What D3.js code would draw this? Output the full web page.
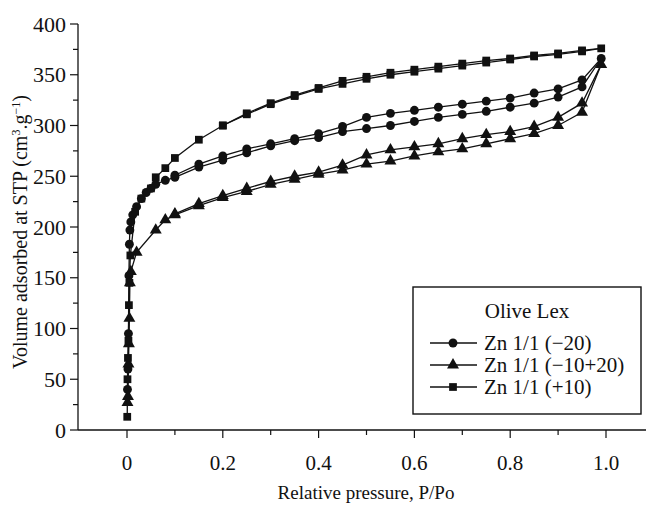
<!DOCTYPE html>
<html>
<head>
<meta charset="utf-8">
<script src="https://cdn.jsdelivr.net/npm/d3@7"></script>
<style>
  body { margin: 0; background: #fff; }
</style>
</head>
<body>
<div id="chart"></div>
<script>
// Zn 1/1 (-20) : circles
var circP_ads = [0.001, 0.002, 0.003, 0.004, 0.005, 0.006, 0.008, 0.012, 0.02, 0.03, 0.04, 0.05, 0.06, 0.08, 0.1, 0.15, 0.2, 0.25, 0.3, 0.35, 0.4, 0.45, 0.5, 0.55, 0.6, 0.65, 0.7, 0.75, 0.8, 0.85, 0.9, 0.95, 0.99];
var circV_ads = [40, 60, 95, 152, 183, 197, 205, 212, 220, 228, 234, 238, 242, 246, 249, 259, 266, 273, 280, 285, 288, 294, 297, 300, 304, 308, 311, 314, 318, 322, 328, 338, 366];
var circP_des = [0.99, 0.95, 0.9, 0.85, 0.8, 0.75, 0.7, 0.65, 0.6, 0.55, 0.5, 0.45, 0.4, 0.35, 0.3, 0.25, 0.2, 0.15, 0.1];
var circV_des = [366, 345, 336, 332, 327, 324, 321, 318, 315, 312, 308, 299, 292, 287, 282, 277, 270, 262, 251];

// Zn 1/1 (-10+20) : triangles
var triP_ads = [0.001, 0.002, 0.003, 0.004, 0.005, 0.006, 0.008, 0.02, 0.06, 0.08, 0.1, 0.15, 0.2, 0.25, 0.3, 0.35, 0.4, 0.45, 0.5, 0.55, 0.6, 0.65, 0.7, 0.75, 0.8, 0.85, 0.9, 0.95, 0.99];
var triV_ads = [27, 33, 65, 85, 110, 145, 156, 175, 197, 207, 212, 221, 229, 235, 242, 247, 252, 256, 262, 265, 270, 274, 277, 282, 287, 292, 300, 313, 360];
var triP_des = [0.99, 0.95, 0.9, 0.85, 0.8, 0.75, 0.7, 0.65, 0.6, 0.55, 0.5, 0.45, 0.4, 0.35, 0.3, 0.25, 0.2, 0.15, 0.1];
var triV_des = [360, 322, 308, 299, 294, 291, 287, 282, 279, 276, 271, 261, 254, 250, 245, 238, 231, 223, 213];

// Zn 1/1 (+10) : squares
var sqP_ads = [0.0005, 0.001, 0.002, 0.003, 0.004, 0.005, 0.007, 0.017, 0.03, 0.05, 0.06, 0.08, 0.1, 0.15, 0.2, 0.25, 0.3, 0.35, 0.4, 0.45, 0.5, 0.55, 0.6, 0.65, 0.7, 0.75, 0.8, 0.85, 0.9, 0.95, 0.99];
var sqV_ads = [13, 50, 71, 88, 123, 145, 172, 215, 228, 238, 249, 258, 268, 286, 300, 311, 321, 329, 336, 341, 346, 350, 353, 356, 359, 362, 365, 368, 370, 373, 376];
var sqP_des = [0.99, 0.95, 0.9, 0.85, 0.8, 0.75, 0.7, 0.65, 0.6, 0.55, 0.5, 0.45, 0.4, 0.35, 0.3, 0.25, 0.2];
var sqV_des = [376, 374, 371, 369, 366, 364, 361, 358, 355, 352, 348, 344, 337, 330, 322, 312, 300];

var seriesNames = ['Zn 1/1 (\u221220)', 'Zn 1/1 (\u221210+20)', 'Zn 1/1 (+10)'];
var xTicks = [0, 0.2, 0.4, 0.6, 0.8, 1.0];
var yTicks = [0, 50, 100, 150, 200, 250, 300, 350, 400];

var width = 646, height = 506;
var serif = '"Liberation Serif", "Times New Roman", Tinos, "DejaVu Serif", serif';

var x = d3.scaleLinear().domain([0, 1]).range([127, 606]);
var y = d3.scaleLinear().domain([0, 400]).range([430, 24]);

var svg = d3.select('#chart')
  .append('svg')
  .attr('width', width)
  .attr('height', height)
  .style('font-family', serif);

function zip(ps, vs) {
  return ps.map((p, i) => [p, vs[i]]);
}

var series = [
  { name: seriesNames[0], sym: d3.symbolCircle, size: 62, ads: zip(circP_ads, circV_ads), des: zip(circP_des, circV_des) },
  { name: seriesNames[1], sym: d3.symbolTriangle, size: 62, ads: zip(triP_ads, triV_ads), des: zip(triP_des, triV_des) },
  { name: seriesNames[2], sym: d3.symbolSquare, size: 60, ads: zip(sqP_ads, sqV_ads), des: zip(sqP_des, sqV_des) }
];

// axes
svg.append('line')
  .attr('x1', 78).attr('x2', width)
  .attr('y1', 430).attr('y2', 430)
  .attr('stroke', '#111').attr('stroke-width', 1.3);
svg.append('line')
  .attr('x1', 78).attr('x2', 78)
  .attr('y1', 24).attr('y2', 430)
  .attr('stroke', '#111').attr('stroke-width', 1.3);

var xMinor = d3.range(1, 11, 2).map(d => d / 10);
svg.selectAll('line.xmaj')
  .data(xTicks).enter().append('line')
  .attr('x1', d => x(d)).attr('x2', d => x(d))
  .attr('y1', 430).attr('y2', 438)
  .attr('stroke', '#111').attr('stroke-width', 1.2);
svg.selectAll('line.xmin')
  .data(xMinor).enter().append('line')
  .attr('x1', d => x(d)).attr('x2', d => x(d))
  .attr('y1', 430).attr('y2', 435)
  .attr('stroke', '#111').attr('stroke-width', 1.2);
svg.selectAll('text.xlab')
  .data(xTicks).enter().append('text')
  .attr('x', d => x(d)).attr('y', 470)
  .attr('text-anchor', 'middle')
  .attr('fill', '#111')
  .style('font-size', '21px')
  .text(d => d === 0 ? '0' : d3.format('.1f')(d));

var yMinor = d3.range(25, 400, 50);
svg.selectAll('line.ymaj')
  .data(yTicks).enter().append('line')
  .attr('x1', 70).attr('x2', 78)
  .attr('y1', d => y(d)).attr('y2', d => y(d))
  .attr('stroke', '#111').attr('stroke-width', 1.2);
svg.selectAll('line.ymin')
  .data(yMinor).enter().append('line')
  .attr('x1', 73).attr('x2', 78)
  .attr('y1', d => y(d)).attr('y2', d => y(d))
  .attr('stroke', '#111').attr('stroke-width', 1.2);
svg.selectAll('text.ylab')
  .data(yTicks).enter().append('text')
  .attr('x', 66).attr('y', d => y(d))
  .attr('dy', '0.35em')
  .attr('text-anchor', 'end')
  .attr('fill', '#111')
  .style('font-size', '22px')
  .text(d => d);

// axis titles
svg.append('text')
  .attr('x', 366).attr('y', 499)
  .attr('text-anchor', 'middle')
  .attr('fill', '#111')
  .style('font-size', '19px')
  .text('Relative pressure, P/Po');

var yt = svg.append('text')
  .attr('transform', 'translate(27,232) rotate(-90)')
  .attr('text-anchor', 'middle')
  .attr('fill', '#111')
  .style('font-size', '20px');
yt.append('tspan').text('Volume adsorbed at STP (cm');
yt.append('tspan').attr('dy', -7).style('font-size', '12px').text('3');
yt.append('tspan').attr('dy', 7).text('.g');
yt.append('tspan').attr('dy', -7).style('font-size', '12px').text('\u22121');
yt.append('tspan').attr('dy', 7).text(')');

// curves
var line = d3.line().x(d => x(d[0])).y(d => y(d[1]));

series.forEach(function(s) {
  [s.ads, s.des].forEach(function(branch) {
    svg.append('path')
      .attr('d', line(branch))
      .attr('fill', 'none')
      .attr('stroke', '#111')
      .attr('stroke-width', 1.3);
  });
});

series.forEach(function(s) {
  var sym = d3.symbol().type(s.sym).size(s.size);
  svg.selectAll(null)
    .data(s.ads.concat(s.des.slice(1)))
    .enter().append('path')
    .attr('d', sym)
    .attr('transform', d => 'translate(' + x(d[0]) + ',' + y(d[1]) + ')')
    .attr('fill', '#111');
});

// legend
var lg = svg.append('g');
lg.append('rect')
  .attr('x', 413).attr('y', 287)
  .attr('width', 228).attr('height', 127)
  .attr('fill', '#fff')
  .attr('stroke', '#111').attr('stroke-width', 1.4);
lg.append('text')
  .attr('x', 527).attr('y', 318)
  .attr('text-anchor', 'middle')
  .attr('fill', '#111')
  .style('font-size', '21px')
  .text('Olive Lex');

series.forEach(function(s, i) {
  var yy = 343 + i * 22;
  lg.append('line')
    .attr('x1', 430).attr('x2', 477)
    .attr('y1', yy).attr('y2', yy)
    .attr('stroke', '#111').attr('stroke-width', 1.3);
  lg.append('path')
    .attr('d', d3.symbol().type(s.sym).size(s.size)())
    .attr('transform', 'translate(453,' + yy + ')')
    .attr('fill', '#111');
  lg.append('text')
    .attr('x', 484).attr('y', yy)
    .attr('dy', '0.35em')
    .attr('fill', '#111')
    .style('font-size', '21px')
    .text(s.name);
});
</script>
</body>
</html>
